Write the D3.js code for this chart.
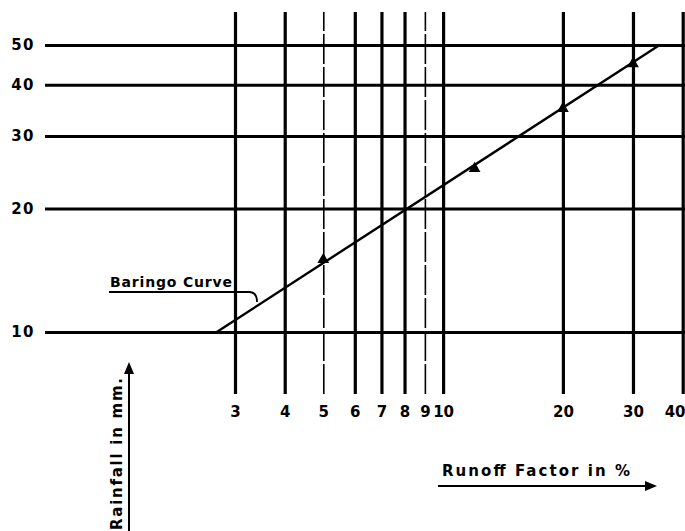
<!DOCTYPE html>
<html>
<head>
<meta charset="utf-8">
<script src="https://cdn.jsdelivr.net/npm/d3@7"></script>
<style>
  body { margin: 0; background: #fff; }
  svg { display: block; }
  text { font-family: "DejaVu Sans", sans-serif; font-weight: bold; fill: #000; }
</style>
</head>
<body>
<div id="chart"></div>
<script>
// runoff factor (%) grid lines and rainfall (mm) grid lines
var xTicks = [3, 4, 5, 6, 7, 8, 9, 10, 20, 30, 40];
var yTicks = [10, 20, 30, 40, 50];
var thinTicks = [5, 9];

// Baringo curve end points
var curveX = [2.7, 35];
var curveY = [10, 50];

// observed points (triangles)
var pointX = [5, 12, 20, 30];
var pointY = [15, 25, 35, 45];

var width = 685, height = 531;

var svg = d3.select("#chart")
  .append("svg")
  .attr("width", width)
  .attr("height", height);

var xScale = d3.scaleLog().domain([3, 40]).range([235, 682.7]);
var yScale = d3.scaleLog().domain([10, 50]).range([332, 45]);

var gridTop = 12, gridBottom = 394, gridLeft = 45, gridRight = 685;

// vertical lines + labels
var xAxis = svg.append("g")
  .attr("class", "x axis")
  .attr("transform", "translate(0," + gridBottom + ")")
  .call(d3.axisBottom(xScale)
    .tickValues(xTicks)
    .tickFormat(d3.format("d"))
    .tickSize(-(gridBottom - gridTop))
    .tickPadding(12));
xAxis.select(".domain").remove();
xAxis.selectAll(".tick line")
  .attr("stroke", "#000")
  .attr("stroke-width", function(d){ return thinTicks.indexOf(d) >= 0 ? 1.6 : 3.2; })
  .attr("stroke-dasharray", function(d){ return thinTicks.indexOf(d) >= 0 ? "30,3" : null; });
xAxis.selectAll(".tick text")
  .attr("font-size", 15)
  .attr("font-family", "DejaVu Sans")
  .attr("font-weight", "bold");
// last label sits on the window edge: keep it inside
xAxis.selectAll(".tick text")
  .filter(function(d){ return d === 40; })
  .attr("text-anchor", "end")
  .attr("x", 685 - xScale(40));

// horizontal lines + labels
var yAxis = svg.append("g")
  .attr("class", "y axis")
  .attr("transform", "translate(" + gridRight + ",0)")
  .call(d3.axisLeft(yScale)
    .tickValues(yTicks)
    .tickFormat(d3.format("d"))
    .tickSize(gridRight - gridLeft)
    .tickPadding(10));
yAxis.select(".domain").remove();
yAxis.selectAll(".tick line")
  .attr("stroke", "#000")
  .attr("stroke-width", 3);
yAxis.selectAll(".tick text")
  .attr("font-size", 15)
  .attr("letter-spacing", 1.5)
  .attr("font-family", "DejaVu Sans")
  .attr("font-weight", "bold");

// Baringo curve
var curve = curveX.map(function(d, i){ return {x: d, y: curveY[i]}; });
var line = d3.line()
  .x(function(d){ return xScale(d.x); })
  .y(function(d){ return yScale(d.y); });
svg.append("path")
  .datum(curve)
  .attr("d", line)
  .attr("fill", "none")
  .attr("stroke", "#000")
  .attr("stroke-width", 2.4);

// triangles
var pts = pointX.map(function(d, i){ return {x: d, y: pointY[i]}; });
svg.selectAll(".pt")
  .data(pts)
  .enter().append("path")
  .attr("class", "pt")
  .attr("transform", function(d){ return "translate(" + xScale(d.x) + "," + yScale(d.y) + ")"; })
  .attr("d", d3.symbol().type(d3.symbolTriangle).size(60))
  .attr("fill", "#000");

// label with leader
svg.append("text")
  .attr("x", 110)
  .attr("y", 287)
  .attr("font-size", 14)
  .attr("textLength", 122)
  .attr("lengthAdjust", "spacing")
  .text("Baringo Curve");
svg.append("path")
  .attr("d", "M109,292 L249,292 Q257,292 257,302")
  .attr("fill", "none")
  .attr("stroke", "#000")
  .attr("stroke-width", 1.8);

// axis titles with arrows
svg.append("text")
  .attr("x", 442)
  .attr("y", 476)
  .attr("font-size", 15)
  .attr("textLength", 188)
  .attr("lengthAdjust", "spacing")
  .text("Runoff  Factor  in %");
svg.append("line")
  .attr("x1", 438).attr("y1", 486)
  .attr("x2", 647).attr("y2", 486)
  .attr("stroke", "#000").attr("stroke-width", 2);
svg.append("path")
  .attr("d", "M645,481 L657,486 L645,491 Z")
  .attr("fill", "#000");

svg.append("text")
  .attr("transform", "translate(122,530) rotate(-90)")
  .attr("font-size", 15)
  .attr("textLength", 152)
  .attr("lengthAdjust", "spacing")
  .text("Rainfall  in  mm.");
svg.append("line")
  .attr("x1", 129).attr("y1", 531)
  .attr("x2", 129).attr("y2", 372)
  .attr("stroke", "#000").attr("stroke-width", 2);
svg.append("path")
  .attr("d", "M124,374 L129,362 L134,374 Z")
  .attr("fill", "#000");
</script>
</body>
</html>
